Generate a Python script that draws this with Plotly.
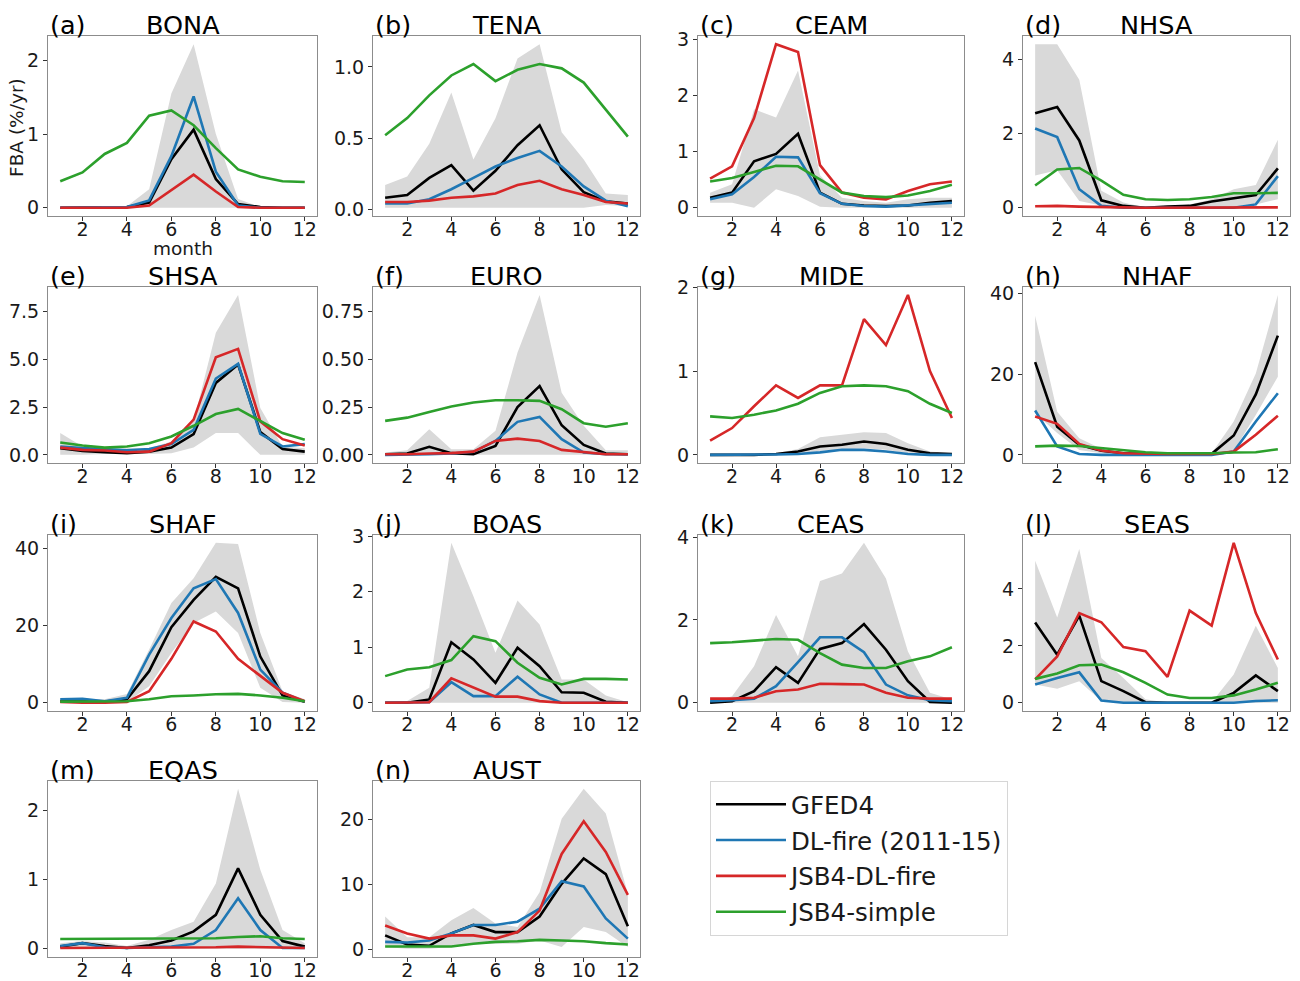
import plotly.graph_objects as go

months = list(range(1, 13))

regions = ["BONA", "TENA", "CEAM", "NHSA", "SHSA", "EURO", "MIDE", "NHAF",
           "SHAF", "BOAS", "CEAS", "SEAS", "EQAS", "AUST"]
letters = ["(a)", "(b)", "(c)", "(d)", "(e)", "(f)", "(g)", "(h)",
           "(i)", "(j)", "(k)", "(l)", "(m)", "(n)"]

series_names = ["GFED4", "DL-fire (2011-15)", "JSB4-DL-fire", "JSB4-simple"]

GFED4 = {
    "BONA": [0, 0, 0, 0.01, 0.07, 0.66, 1.06, 0.39, 0.05, 0.01, 0, 0],
    "TENA": [0.08, 0.10, 0.22, 0.31, 0.13, 0.27, 0.45, 0.59, 0.28, 0.12, 0.055, 0.04],
    "CEAM": [0.18, 0.27, 0.83, 0.96, 1.32, 0.27, 0.07, 0.04, 0.03, 0.04, 0.09, 0.12],
    "NHSA": [2.54, 2.71, 1.81, 0.20, 0.05, 0.0, 0.03, 0.05, 0.17, 0.25, 0.34, 1.06],
    "SHSA": [0.35, 0.21, 0.14, 0.09, 0.17, 0.38, 1.08, 3.76, 4.72, 1.19, 0.30, 0.17],
    "EURO": [0.003, 0.007, 0.042, 0.009, 0.003, 0.047, 0.25, 0.36, 0.155, 0.052, 0.007, 0.003],
    "MIDE": [0, 0, 0, 0.01, 0.04, 0.10, 0.12, 0.16, 0.13, 0.06, 0.02, 0.01],
    "NHAF": [23.0, 7.0, 2.5, 1.0, 0.4, 0.25, 0.2, 0.2, 0.25, 4.8, 15.0, 29.6],
    "SHAF": [0.4, 0.3, 0.3, 0.9, 8.2, 19.6, 26.7, 32.7, 29.7, 12.0, 1.9, 0.3],
    "BOAS": [0, 0, 0.06, 1.09, 0.78, 0.36, 0.99, 0.66, 0.19, 0.18, 0.02, 0],
    "CEAS": [0, 0.04, 0.28, 0.86, 0.48, 1.30, 1.44, 1.90, 1.28, 0.52, 0.02, 0],
    "SEAS": [2.82, 1.69, 3.06, 0.76, 0.41, 0.02, 0, 0, 0, 0.35, 0.96, 0.41],
    "EQAS": [0.03, 0.08, 0.04, 0.01, 0.05, 0.12, 0.25, 0.49, 1.16, 0.49, 0.11, 0.03],
    "AUST": [2.2, 0.8, 0.6, 2.5, 3.8, 2.7, 2.7, 5.1, 10.1, 14.0, 11.6, 3.6],
}

DL_FIRE = {
    "BONA": [0, 0, 0, 0.01, 0.10, 0.70, 1.51, 0.49, 0.03, 0, 0, 0],
    "TENA": [0.04, 0.04, 0.07, 0.14, 0.22, 0.30, 0.36, 0.41, 0.30, 0.16, 0.06, 0.02],
    "CEAM": [0.15, 0.24, 0.55, 0.91, 0.90, 0.26, 0.07, 0.03, 0.02, 0.04, 0.07, 0.09],
    "NHSA": [2.13, 1.90, 0.50, 0.05, 0, 0, 0, 0, 0, 0, 0.09, 0.85],
    "SHSA": [0.44, 0.35, 0.30, 0.24, 0.31, 0.56, 1.31, 3.99, 4.76, 1.10, 0.44, 0.56],
    "EURO": [0, 0, 0.003, 0.007, 0.016, 0.073, 0.173, 0.199, 0.082, 0.012, 0.003, 0.003],
    "MIDE": [0, 0, 0, 0.005, 0.01, 0.03, 0.06, 0.06, 0.04, 0.01, 0, 0],
    "NHAF": [11.0, 2.1, 0.2, 0, 0, 0, 0, 0, 0, 0.8, 8.3, 15.3],
    "SHAF": [0.9, 1.0, 0.4, 1.3, 12.5, 22.0, 29.7, 32.1, 23.3, 8.6, 2.6, 0.3],
    "BOAS": [0, 0, 0.01, 0.37, 0.12, 0.12, 0.47, 0.15, 0, 0, 0, 0],
    "CEAS": [0.04, 0.06, 0.10, 0.40, 0.98, 1.58, 1.58, 1.22, 0.44, 0.18, 0.06, 0.04],
    "SEAS": [0.64, 0.87, 1.07, 0.08, 0, 0, 0, 0, 0, 0, 0.06, 0.09],
    "EQAS": [0.04, 0.08, 0.02, 0.01, 0.02, 0.03, 0.07, 0.27, 0.73, 0.27, 0.01, 0.01],
    "AUST": [1.2, 1.1, 1.4, 2.5, 3.8, 3.8, 4.3, 6.3, 10.5, 9.7, 4.8, 1.7],
}

JSB4_DL_FIRE = {
    "BONA": [0, 0, 0, 0, 0.03, 0.24, 0.45, 0.22, 0.01, 0, 0, 0],
    "TENA": [0.05, 0.05, 0.06, 0.08, 0.09, 0.11, 0.17, 0.20, 0.14, 0.10, 0.05, 0.04],
    "CEAM": [0.52, 0.74, 1.60, 2.92, 2.78, 0.76, 0.27, 0.18, 0.15, 0.30, 0.42, 0.47],
    "NHSA": [0.04, 0.05, 0.03, 0.01, 0.01, 0, 0, 0, 0, 0, 0, 0.01],
    "SHSA": [0.38, 0.26, 0.23, 0.14, 0.17, 0.61, 1.84, 5.10, 5.54, 1.75, 0.82, 0.49],
    "EURO": [0.003, 0.003, 0.007, 0.009, 0.017, 0.073, 0.085, 0.073, 0.026, 0.016, 0.003, 0.003],
    "MIDE": [0.17, 0.32, 0.58, 0.83, 0.68, 0.83, 0.83, 1.62, 1.31, 1.91, 1.0, 0.44],
    "NHAF": [9.5, 7.7, 2.7, 1.1, 0.4, 0.25, 0.2, 0.2, 0.2, 0.8, 5.0, 9.7],
    "SHAF": [0.2, 0, 0, 0.2, 3.0, 11.4, 21.1, 18.5, 11.4, 6.9, 2.6, 0.4],
    "BOAS": [0, 0, 0.01, 0.44, 0.27, 0.11, 0.11, 0.03, 0, 0, 0, 0],
    "CEAS": [0.10, 0.10, 0.12, 0.28, 0.32, 0.46, 0.45, 0.44, 0.24, 0.12, 0.10, 0.10],
    "SEAS": [0.82, 1.63, 3.15, 2.83, 1.96, 1.81, 0.91, 3.24, 2.71, 5.62, 3.15, 1.52],
    "EQAS": [0.01, 0.01, 0.01, 0.01, 0.01, 0.01, 0.01, 0.02, 0.03, 0.02, 0.01, 0.01],
    "AUST": [3.7, 2.5, 1.7, 2.2, 2.2, 1.7, 2.7, 6.0, 14.7, 19.7, 15.0, 8.4],
}

JSB4_SIMPLE = {
    "BONA": [0.36, 0.48, 0.73, 0.88, 1.25, 1.32, 1.12, 0.81, 0.52, 0.42, 0.36, 0.35],
    "TENA": [0.52, 0.64, 0.80, 0.94, 1.02, 0.90, 0.98, 1.02, 0.99, 0.89, 0.70, 0.51],
    "CEAM": [0.47, 0.53, 0.64, 0.75, 0.74, 0.51, 0.27, 0.21, 0.19, 0.22, 0.30, 0.41],
    "NHSA": [0.60, 1.03, 1.07, 0.73, 0.35, 0.23, 0.21, 0.23, 0.29, 0.39, 0.39, 0.40],
    "SHSA": [0.65, 0.49, 0.38, 0.44, 0.61, 0.96, 1.52, 2.13, 2.40, 1.75, 1.14, 0.79],
    "EURO": [0.178, 0.195, 0.225, 0.253, 0.274, 0.286, 0.286, 0.283, 0.239, 0.166, 0.147, 0.166],
    "MIDE": [0.46, 0.44, 0.48, 0.53, 0.61, 0.74, 0.82, 0.83, 0.82, 0.76, 0.61, 0.50],
    "NHAF": [2.1, 2.3, 2.2, 1.65, 1.1, 0.66, 0.4, 0.33, 0.4, 0.58, 0.66, 1.4],
    "SHAF": [0.3, 0.3, 0.3, 0.4, 0.9, 1.7, 1.9, 2.2, 2.3, 1.9, 1.3, 0.4],
    "BOAS": [0.48, 0.60, 0.64, 0.77, 1.20, 1.11, 0.72, 0.45, 0.33, 0.43, 0.43, 0.42],
    "CEAS": [1.44, 1.46, 1.50, 1.54, 1.52, 1.20, 0.92, 0.84, 0.84, 1.0, 1.12, 1.34],
    "SEAS": [0.84, 1.03, 1.32, 1.34, 1.07, 0.70, 0.29, 0.17, 0.17, 0.26, 0.47, 0.70],
    "EQAS": [0.14, 0.14, 0.14, 0.14, 0.14, 0.14, 0.14, 0.15, 0.17, 0.18, 0.15, 0.14],
    "AUST": [0.5, 0.5, 0.5, 0.5, 0.9, 1.2, 1.3, 1.5, 1.4, 1.3, 1.0, 0.8],
}

GFED4_MAX = {
    "BONA": [0, 0, 0, 0.02, 0.25, 1.55, 2.22, 1.0, 0.12, 0.01, 0, 0],
    "TENA": [0.17, 0.23, 0.46, 0.82, 0.35, 0.64, 1.06, 1.16, 0.54, 0.35, 0.11, 0.10],
    "CEAM": [0.27, 0.42, 1.76, 1.61, 2.45, 0.58, 0.18, 0.12, 0.09, 0.15, 0.18, 0.18],
    "NHSA": [4.40, 4.40, 3.44, 0.46, 0.14, 0.01, 0.03, 0.09, 0.23, 0.50, 0.61, 1.83],
    "SHSA": [1.14, 0.44, 0.30, 0.35, 0.35, 0.70, 1.75, 6.38, 8.36, 2.45, 0.44, 0.35],
    "EURO": [0.012, 0.024, 0.134, 0.03, 0.03, 0.126, 0.536, 0.838, 0.326, 0.152, 0.024, 0.024],
    "MIDE": [0.01, 0.01, 0.01, 0.02, 0.07, 0.21, 0.24, 0.27, 0.26, 0.14, 0.04, 0.02],
    "NHAF": [34.5, 10.7, 4.1, 1.5, 0.66, 0.4, 0.35, 0.35, 0.4, 8.3, 20.2, 39.7],
    "SHAF": [0.9, 0.9, 0.9, 2.3, 13.8, 25.9, 32.3, 41.5, 41.2, 18.1, 3.0, 0.9],
    "BOAS": [0, 0.03, 0.27, 2.88, 1.92, 0.90, 1.84, 1.41, 0.42, 0.42, 0.13, 0.01],
    "CEAS": [0, 0.16, 0.88, 2.12, 1.12, 2.94, 3.12, 3.86, 3.0, 1.24, 0.24, 0.08],
    "SEAS": [4.99, 3.0, 5.40, 1.57, 0.87, 0.12, 0, 0, 0.02, 0.99, 2.71, 1.22],
    "EQAS": [0.08, 0.11, 0.09, 0.04, 0.13, 0.27, 0.39, 0.94, 2.31, 1.14, 0.27, 0.08],
    "AUST": [5.1, 1.9, 1.9, 4.5, 6.4, 4.0, 3.5, 8.8, 20.1, 24.7, 20.9, 8.6],
}

GFED4_MIN = {
    "BONA": [0] * 12,
    "TENA": [0.01, 0.01, 0.01, 0.01, 0.01, 0.01, 0.01, 0.01, 0.01, 0.01, 0.03, 0.02],
    "CEAM": [0.09, 0.09, 0.0, 0.33, 0.21, 0.02, 0, 0, 0, 0, 0, 0],
    "NHSA": [0.87, 1.01, 0.18, 0.06, 0, 0, 0, 0, 0, 0.03, 0.09, 0.23],
    "SHSA": [0, 0, 0.05, 0.05, 0.05, 0.09, 0.38, 1.14, 1.14, 0, 0, 0],
    "EURO": [0] * 12,
    "MIDE": [0, 0, 0, 0, 0, 0.05, 0.06, 0.08, 0.06, 0.02, 0, 0],
    "NHAF": [10.3, 5.4, 1.2, 0.4, 0.2, 0.1, 0.1, 0.1, 0.2, 1.0, 9.9, 19.4],
    "SHAF": [0, 0, 0, 0.2, 4.3, 12.9, 20.7, 23.7, 18.1, 3.9, 0.2, 0],
    "BOAS": [0] * 12,
    "CEAS": [0] * 12,
    "SEAS": [0.64, 0.49, 0.76, 0.06, 0, 0, 0, 0, 0, 0, 0, 0],
    "EQAS": [0] * 12,
    "AUST": [0.4, 0.15, 0.15, 0.4, 0.9, 0.9, 0.9, 1.4, 0.4, 3.5, 2.7, 0.4],
}

x_ticks = [2, 4, 6, 8, 10, 12]
y_dtick = {"BONA": 1, "TENA": 0.5, "CEAM": 1, "NHSA": 2, "SHSA": 2.5, "EURO": 0.25,
           "MIDE": 1, "NHAF": 20, "SHAF": 20, "BOAS": 1, "CEAS": 2, "SEAS": 2,
           "EQAS": 1, "AUST": 10}
y_fmt = {"TENA": ".1f", "SHSA": ".1f", "EURO": ".2f"}

# ---------------- styling ----------------
FONT = "DejaVu Sans"
W, H = 1300, 981
col_px = [(48, 317), (373, 640), (698, 964), (1023, 1290)]
row_px = [(33, 213), (284, 460), (532, 708), (778, 954)]
colors = ["#000000", "#1f77b4", "#d62728", "#2ca02c"]
band_color = "#d9d9d9"
data_sets = [GFED4, DL_FIRE, JSB4_DL_FIRE, JSB4_SIMPLE]
VS, VOFF = 0.984, 8.0        # vertical calibration of the photographed page


def px_x(X):
    return X / W


def px_y(Y):
    return 1 - ((Y - VOFF) / VS) / H


fig = go.Figure()
annotations = []

for i, reg in enumerate(regions):
    r, c = divmod(i, 4)
    suffix = "" if i == 0 else str(i + 1)
    xa, ya = "x" + suffix, "y" + suffix
    x0, x1 = col_px[c]
    yt, yb = row_px[r]
    xdom = [px_x(x0), px_x(x1)]
    ydom = [px_y(yb), px_y(yt)]

    fig.add_trace(go.Scatter(x=months, y=GFED4_MIN[reg], mode="lines",
                             line=dict(width=0, color="rgba(0,0,0,0)"),
                             showlegend=False, hoverinfo="skip", xaxis=xa, yaxis=ya))
    fig.add_trace(go.Scatter(x=months, y=GFED4_MAX[reg], mode="lines", fill="tonexty",
                             fillcolor=band_color, line=dict(width=0, color="rgba(0,0,0,0)"),
                             showlegend=False, hoverinfo="skip", xaxis=xa, yaxis=ya))
    for k, ds in enumerate(data_sets):
        fig.add_trace(go.Scatter(x=months, y=ds[reg], mode="lines", name=series_names[k],
                                 line=dict(color=colors[k], width=2.6),
                                 legendgroup=series_names[k], showlegend=(i == 0),
                                 xaxis=xa, yaxis=ya))

    allv = GFED4_MIN[reg] + GFED4_MAX[reg] + sum((ds[reg] for ds in data_sets), [])
    lo, hi = min(allv), max(allv)
    pad = 0.05 * (hi - lo)

    axis_common = dict(showline=True, mirror=True, linecolor="#8c8c8c", linewidth=1.2,
                       ticks="outside", ticklen=4, tickwidth=1.2, tickcolor="#333333",
                       showgrid=False, zeroline=False,
                       tickfont=dict(family=FONT, size=19, color="#1a1a1a"))
    fig.update_layout(**{
        "xaxis" + suffix: dict(domain=xdom, anchor=ya, range=[0.45, 12.55],
                               tickvals=x_ticks, ticklabelstandoff=-8, **axis_common),
        "yaxis" + suffix: dict(domain=ydom, anchor=xa, range=[lo - pad, hi + pad],
                               tick0=0, dtick=y_dtick[reg],
                               tickformat=y_fmt.get(reg, "d"), **axis_common),
    })

    annotations.append(dict(x=xdom[0], y=ydom[1], xref="paper", yref="paper",
                            text=letters[i], showarrow=False, xanchor="left",
                            yanchor="bottom", yshift=-6,
                            font=dict(family=FONT, size=25.5, color="#000")))
    annotations.append(dict(x=(xdom[0] + xdom[1]) / 2, y=ydom[1], xref="paper", yref="paper",
                            text=reg, showarrow=False, xanchor="center",
                            yanchor="bottom", yshift=-6,
                            font=dict(family=FONT, size=25.5, color="#000")))

annotations.append(dict(x=px_x(17), y=px_y(125), xref="paper", yref="paper",
                        text="FBA (%/yr)", textangle=-90, showarrow=False,
                        xanchor="center", yanchor="middle",
                        font=dict(family=FONT, size=18.5, color="#1a1a1a")))
annotations.append(dict(x=px_x((col_px[0][0] + col_px[0][1]) / 2), y=px_y(246),
                        xref="paper", yref="paper", text="month", showarrow=False,
                        xanchor="center", yanchor="middle",
                        font=dict(family=FONT, size=18.5, color="#1a1a1a")))

fig.update_layout(
    width=W, height=H, margin=dict(l=0, r=0, t=0, b=0),
    paper_bgcolor="white", plot_bgcolor="white",
    annotations=annotations,
    showlegend=True,
    legend=dict(x=px_x(710), y=px_y(778), xanchor="left", yanchor="top",
                bordercolor="#d6d6d6", borderwidth=1, bgcolor="white",
                font=dict(family=FONT, size=24.5, color="#1a1a1a"),
                itemwidth=70, tracegroupgap=1, traceorder="grouped"),
    font=dict(family=FONT),
)

fig.write_html("out.html", config={"displayModeBar": False},
               post_script="document.body.style.margin='0px';")
